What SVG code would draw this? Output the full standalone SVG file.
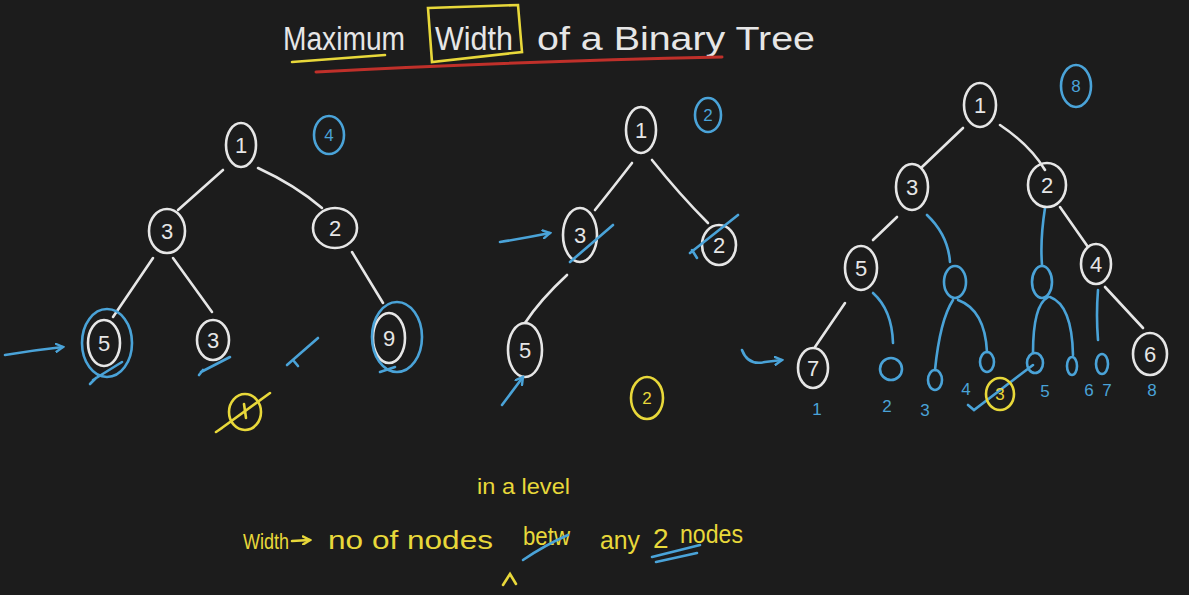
<svg xmlns="http://www.w3.org/2000/svg" width="1189" height="595" viewBox="0 0 1189 595">
<defs>
<style>
.bg{fill:#1c1c1c}
.w{fill:none;stroke:#e6e6e6;stroke-width:2.6;stroke-linecap:round}
.b{fill:none;stroke:#4aa3d8;stroke-width:2.6;stroke-linecap:round}
.y{fill:none;stroke:#e8d83a;stroke-width:2.6;stroke-linecap:round}
.r{fill:none;stroke:#c0302a;stroke-width:3;stroke-linecap:round}
.tw{fill:#e6e6e6;font-family:"Liberation Sans",Arial,sans-serif;text-anchor:middle}
.tt{fill:#e6e6e6;font-family:"Liberation Sans",Arial,sans-serif;font-size:34px}
.tb{fill:#4aa3d8;font-family:"Liberation Sans",Arial,sans-serif;text-anchor:middle}
.ty{fill:#e8d83a;font-family:"Liberation Sans",Arial,sans-serif}
.n{font-size:22px}
.s{font-size:17px}
</style>
<marker id="ab" markerWidth="10" markerHeight="10" refX="8" refY="5" orient="auto" markerUnits="userSpaceOnUse"><path d="M1,1 L8,5 L1,9" fill="none" stroke="#4aa3d8" stroke-width="2.4" stroke-linecap="round"/></marker>
<marker id="ay" markerWidth="10" markerHeight="10" refX="8" refY="5" orient="auto" markerUnits="userSpaceOnUse"><path d="M1,1 L8,5 L1,9" fill="none" stroke="#e8d83a" stroke-width="2.4" stroke-linecap="round"/></marker>
</defs>
<rect class="bg" x="0" y="0" width="1189" height="595"/>

<g id="title">
<text class="tt" x="283" y="50" textLength="122" lengthAdjust="spacingAndGlyphs">Maximum</text>
<text class="tt" x="435" y="50" textLength="78" lengthAdjust="spacingAndGlyphs">Width</text>
<text class="tt" x="537" y="50" textLength="278" lengthAdjust="spacingAndGlyphs">of a Binary Tree</text>
<path class="y" d="M428,8 L518,5 L522,52 L432,62 Z"/>
<path class="y" d="M292,62 L385,55"/>
<path class="r" d="M316,72 Q500,62 722,57"/>
</g>

<g id="connectors">
<!-- tree 1 -->
<path class="w" d="M223,170 L178,210"/>
<path class="w" d="M258,168 Q295,185 322,208"/>
<path class="w" d="M153,258 L113,317"/>
<path class="w" d="M173,258 L212,312"/>
<path class="w" d="M352,252 L383,303"/>
<!-- tree 2 -->
<path class="w" d="M632,163 Q615,185 595,210"/>
<path class="w" d="M652,160 Q680,195 708,223"/>
<path class="w" d="M567,275 Q540,300 525,323"/>
<!-- tree 3 -->
<path class="w" d="M963,128 Q940,150 922,167"/>
<path class="w" d="M1000,125 Q1030,145 1045,170"/>
<path class="w" d="M897,217 L873,240"/>
<path class="w" d="M1060,207 L1088,247"/>
<path class="w" d="M845,303 L815,347"/>
<path class="w" d="M1105,287 L1143,328"/>
<path class="b" d="M927,215 Q948,235 950,262"/>
<path class="b" d="M1045,208 Q1040,240 1042,265"/>
<path class="b" d="M873,293 Q892,310 893,343"/>
<path class="b" d="M953,300 Q940,320 935,370"/>
<path class="b" d="M958,300 Q985,310 987,352"/>
<path class="b" d="M1048,297 Q1033,305 1033,353"/>
<path class="b" d="M1050,297 Q1072,305 1073,355"/>
<path class="b" d="M1098,290 Q1096,315 1098,340"/>
</g>

<!-- tree 1 nodes -->
<g id="t1-n1"><ellipse class="w" cx="241" cy="145" rx="15" ry="22"/><text class="tw n" x="241" y="153">1</text></g>
<g id="t1-n3"><ellipse class="w" cx="167" cy="231" rx="18" ry="22"/><text class="tw n" x="167" y="239">3</text></g>
<g id="t1-n2"><ellipse class="w" cx="335" cy="228" rx="22" ry="20"/><text class="tw n" x="335" y="236">2</text></g>
<g id="t1-n5"><ellipse class="w" cx="104" cy="343" rx="16" ry="23"/><text class="tw n" x="104" y="351">5</text><ellipse class="b" cx="107" cy="343" rx="25" ry="34"/></g>
<g id="t1-n3b"><ellipse class="w" cx="213" cy="340" rx="16" ry="20"/><text class="tw n" x="213" y="348">3</text></g>
<g id="t1-n9"><ellipse class="w" cx="389" cy="338" rx="16" ry="25"/><text class="tw n" x="389" y="346">9</text><ellipse class="b" cx="397" cy="337" rx="25" ry="35"/></g>
<g id="t1-w4"><ellipse class="b" cx="329" cy="135" rx="15" ry="19"/><text class="tb s" x="329" y="141">4</text></g>
<g id="t1-marks">
<path class="b" d="M5,355 Q35,350 63,347" marker-end="url(#ab)"/>
<path class="b" d="M90,384 L96,378 M93,380 L122,362"/>
<path class="b" d="M199,375 L203,370 M201,372 L230,357"/>
<path class="b" d="M287,365 L318,338 M293,360 L298,366"/>
<path class="b" d="M380,372 L395,367"/>
<ellipse class="y" cx="245" cy="412" rx="16" ry="18"/>
<path class="y" d="M244,404 L246,418"/>
<path class="y" d="M216,432 L222,428 M219,430 L270,393"/>
</g>

<!-- tree 2 nodes -->
<g id="t2-n1"><ellipse class="w" cx="641" cy="130" rx="15" ry="23"/><text class="tw n" x="641" y="138">1</text></g>
<g id="t2-n3"><ellipse class="w" cx="580" cy="235" rx="17" ry="27"/><text class="tw n" x="580" y="243">3</text></g>
<g id="t2-n2"><ellipse class="w" cx="719" cy="245" rx="17" ry="20"/><text class="tw n" x="719" y="253">2</text></g>
<g id="t2-n5"><ellipse class="w" cx="525" cy="350" rx="17" ry="27"/><text class="tw n" x="525" y="358">5</text></g>
<g id="t2-w2"><ellipse class="b" cx="708" cy="115" rx="13" ry="17"/><text class="tb s" x="708" y="121">2</text></g>
<g id="t2-marks">
<path class="b" d="M500,242 Q525,238 550,233" marker-end="url(#ab)"/>
<path class="b" d="M570,262 L613,225"/>
<path class="b" d="M690,253 L738,215 M692,250 L697,258"/>
<path class="b" d="M502,405 L523,377" marker-end="url(#ab)"/>
<ellipse class="y" cx="647" cy="398" rx="16" ry="21"/>
<text class="ty s" x="647" y="404" style="text-anchor:middle">2</text>
</g>

<!-- tree 3 nodes -->
<g id="t3-n1"><ellipse class="w" cx="980" cy="105" rx="16" ry="22"/><text class="tw n" x="980" y="113">1</text></g>
<g id="t3-n3"><ellipse class="w" cx="912" cy="187" rx="16" ry="23"/><text class="tw n" x="912" y="195">3</text></g>
<g id="t3-n2"><ellipse class="w" cx="1047" cy="185" rx="19" ry="22"/><text class="tw n" x="1047" y="193">2</text></g>
<g id="t3-n5"><ellipse class="w" cx="861" cy="268" rx="16" ry="22"/><text class="tw n" x="861" y="276">5</text></g>
<g id="t3-n4"><ellipse class="w" cx="1096" cy="264" rx="15" ry="20"/><text class="tw n" x="1096" y="272">4</text></g>
<g id="t3-n7"><ellipse class="w" cx="813" cy="368" rx="15" ry="20"/><text class="tw n" x="813" y="376">7</text></g>
<g id="t3-n6"><ellipse class="w" cx="1150" cy="354" rx="17" ry="21"/><text class="tw n" x="1150" y="362">6</text></g>
<g id="t3-w8"><ellipse class="b" cx="1076" cy="86" rx="15" ry="21"/><text class="tb s" x="1076" y="92">8</text></g>
<g id="t3-nulls">
<ellipse class="b" cx="955" cy="282" rx="11" ry="16"/>
<ellipse class="b" cx="1042" cy="282" rx="10" ry="16"/>
<ellipse class="b" cx="891" cy="369" rx="11" ry="11"/>
<ellipse class="b" cx="935" cy="380" rx="7" ry="10"/>
<ellipse class="b" cx="987" cy="362" rx="7" ry="10"/>
<ellipse class="b" cx="1035" cy="363" rx="8" ry="10"/>
<ellipse class="b" cx="1072" cy="366" rx="5" ry="9"/>
<ellipse class="b" cx="1102" cy="364" rx="6" ry="10"/>
</g>
<g id="t3-marks">
<path class="b" d="M742,350 Q748,366 765,362 L782,360" marker-end="url(#ab)"/>
<text class="tb s" x="817" y="415">1</text>
<text class="tb s" x="887" y="412">2</text>
<text class="tb s" x="925" y="416">3</text>
<text class="tb s" x="966" y="395">4</text>
<text class="tb s" x="1045" y="397">5</text>
<text class="tb s" x="1089" y="396">6</text>
<text class="tb s" x="1107" y="396">7</text>
<text class="tb s" x="1152" y="396">8</text>
<path class="b" d="M968,405 L974,410 L1033,365"/>
<ellipse class="y" cx="1000" cy="394" rx="14" ry="16"/>
<text class="ty s" x="1000" y="400" style="text-anchor:middle">3</text>
</g>

<g id="note">
<text class="ty" x="243" y="549" font-size="22" textLength="46" lengthAdjust="spacingAndGlyphs">Width</text>
<path class="y" d="M292,541 L310,540" marker-end="url(#ay)"/>
<text class="ty" x="328" y="549" font-size="26" textLength="165" lengthAdjust="spacingAndGlyphs">no of nodes</text>
<text class="ty" x="523" y="545" font-size="26" textLength="47" lengthAdjust="spacingAndGlyphs">betw</text>
<text class="ty" x="477" y="494" font-size="22" textLength="93" lengthAdjust="spacingAndGlyphs">in a level</text>
<text class="ty" x="600" y="549" font-size="26" textLength="40" lengthAdjust="spacingAndGlyphs">any</text>
<text class="ty" x="653" y="548" font-size="28">2</text>
<text class="ty" x="680" y="543" font-size="26" textLength="63" lengthAdjust="spacingAndGlyphs">nodes</text>
<path class="y" d="M503,585 L510,574 L516,584"/>
<path class="b" d="M523,560 Q545,545 568,535"/>
<path class="b" d="M652,557 L700,545 M656,562 L697,553"/>
</g>
</svg>
